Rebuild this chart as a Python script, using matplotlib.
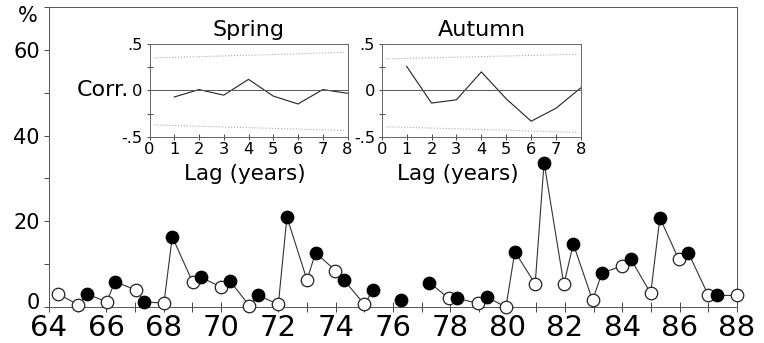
import numpy as np
import matplotlib
matplotlib.use("Agg")
import matplotlib.pyplot as plt
from matplotlib.transforms import ScaledTranslation

plt.rcParams['font.family'] = ['DejaVu Sans']

# ---- main series (sample time in decimal years, percentage) ----
times = [64.31, 65.02, 65.34, 66.01, 66.30, 67.02, 67.33, 68.01, 68.30,
         69.01, 69.31, 69.99, 70.31, 70.99, 71.30, 72.00, 72.30, 73.00,
         73.30, 73.99, 74.29, 75.00, 75.31, 76.00, 76.28, 77.00, 77.27,
         77.95, 78.24, 78.95, 79.27, 79.94, 80.25, 80.96, 81.27, 81.96,
         82.29, 82.96, 83.29, 83.98, 84.30, 84.99, 85.31, 85.97, 86.30,
         87.00, 87.29, 87.99]
pct = [3.1, 0.5, 3.0, 1.2, 5.9, 4.0, 1.2, 0.9, 16.4,
       5.8, 6.9, 4.7, 6.1, 0.3, 2.7, 0.6, 21.0, 6.3,
       12.7, 8.5, 6.3, 0.6, 4.0, np.nan, 1.6, np.nan, 5.7,
       2.0, 2.0, 0.9, 2.3, 0.0, 12.9, 5.4, 33.7, 5.3,
       14.7, 1.6, 7.9, 9.6, 11.1, 3.2, 20.8, 11.1, 12.7,
       2.7, 2.7, 2.7]
filled = [0, 0, 1, 0, 1, 0, 1, 0, 1,
          0, 1, 0, 1, 0, 1, 0, 1, 0,
          1, 0, 1, 0, 1, 0, 1, 0, 1,
          0, 1, 0, 1, 0, 1, 0, 1, 0,
          1, 0, 1, 0, 1, 0, 1, 0, 1,
          0, 1, 0]

x_ticks_major = [64, 66, 68, 70, 72, 74, 76, 78, 80, 82, 84, 86, 88]
y_ticks_major = [0, 20, 40, 60]

# ---- inset correlograms ----
lags = [1, 2, 3, 4, 5, 6, 7, 8]
spring_corr = [-0.07, 0.01, -0.05, 0.12, -0.06, -0.145, 0.01, -0.03]
autumn_corr = [0.26, -0.135, -0.10, 0.20, -0.09, -0.33, -0.19, 0.03]
spring_ci_upper = [0.35, 0.41]
spring_ci_lower = [-0.37, -0.43]
autumn_ci_upper = [0.34, 0.39]
autumn_ci_lower = [-0.39, -0.45]
ci_lags = [0.2, 7.9]

W, H = 764, 343
fig = plt.figure(figsize=(W / 100, H / 100), dpi=100)

def box(l, t, r, b):
    return [l / W, 1 - b / H, (r - l) / W, (b - t) / H]

ax = fig.add_axes(box(49, 7, 737, 307))
ax.set_xlim(64, 88)
ax.set_ylim(0, 70)

t = np.array(times)
p = np.array(pct, dtype=float)
f = np.array(filled, dtype=bool)
ax.plot(t, p, color='#333333', lw=0.8, zorder=2)
ax.plot(t[~f], p[~f], 'o', ms=9, mfc='white', mec='#222222', mew=0.9,
        ls='none', zorder=3, clip_on=False)
ax.plot(t[f], p[f], 'o', ms=9, mfc='black', mec='black', mew=0.9,
        ls='none', zorder=4, clip_on=False)

ax.set_xticks(x_ticks_major)
ax.set_xticks(np.arange(64, 89, 1), minor=True)
ax.set_yticks(y_ticks_major)
ax.set_yticks(np.arange(0, 71, 10), minor=True)
ax.tick_params(axis='x', which='both', direction='inout', length=7,
               width=0.7, color='#444444', labelsize=21, pad=1.5)
ax.tick_params(axis='y', which='both', direction='out', length=3.6,
               width=0.7, color='#444444', labelsize=15, pad=3)
for s in ax.spines.values():
    s.set_linewidth(0.7)
    s.set_color('#555555')

# lift the "0" label a little, as in the original
fig.canvas.draw()
zero_lbl = ax.get_yticklabels()[0]
zero_lbl.set_transform(zero_lbl.get_transform() +
                       ScaledTranslation(0, 6 / 100, fig.dpi_scale_trans))

fig.text(38 / W, 1 - 16 / H, '%', ha='right', va='center', fontsize=15)

def inset(rect, corr, up, lo, title, label_x, ylabel=None):
    a = fig.add_axes(rect)
    a.set_xlim(0, 8)
    a.set_ylim(-0.5, 0.5)
    a.plot(lags, corr, color='#222222', lw=0.8)
    a.axhline(0, color='#555555', lw=0.7)
    a.plot(ci_lags, up, color='#aaaaaa', lw=0.8, ls=':')
    a.plot(ci_lags, lo, color='#aaaaaa', lw=0.8, ls=':')
    a.set_xticks(range(0, 9))
    a.set_yticks([-0.5, 0, 0.5])
    a.set_yticklabels(['-.5', '0', '.5'])
    a.set_yticks([-0.25, 0.25], minor=True)
    a.tick_params(axis='both', which='both', direction='inout', length=4.8,
                  width=0.7, color='#444444', labelsize=11.7)
    a.tick_params(axis='x', pad=1)
    a.tick_params(axis='y', pad=2.5)
    for s in a.spines.values():
        s.set_linewidth(0.7)
        s.set_color('#666666')
    a.set_title(title, fontsize=16, pad=5.5)
    a.set_xlabel('Lag (years)', fontsize=15.5)
    a.xaxis.set_label_coords(label_x, -0.29)
    a.xaxis.label.set_va('top')
    if ylabel:
        a.set_ylabel(ylabel, rotation=0, fontsize=16, ha='right', va='center')
        a.yaxis.set_label_coords(-0.105, 0.5)
    return a

inset(box(149.5, 44, 347.5, 137), spring_corr, spring_ci_upper,
      spring_ci_lower, 'Spring', 0.48, 'Corr.')
inset(box(381.7, 44, 581, 137), autumn_corr, autumn_ci_upper,
      autumn_ci_lower, 'Autumn', 0.38)

fig.savefig('out.png', dpi=100)
